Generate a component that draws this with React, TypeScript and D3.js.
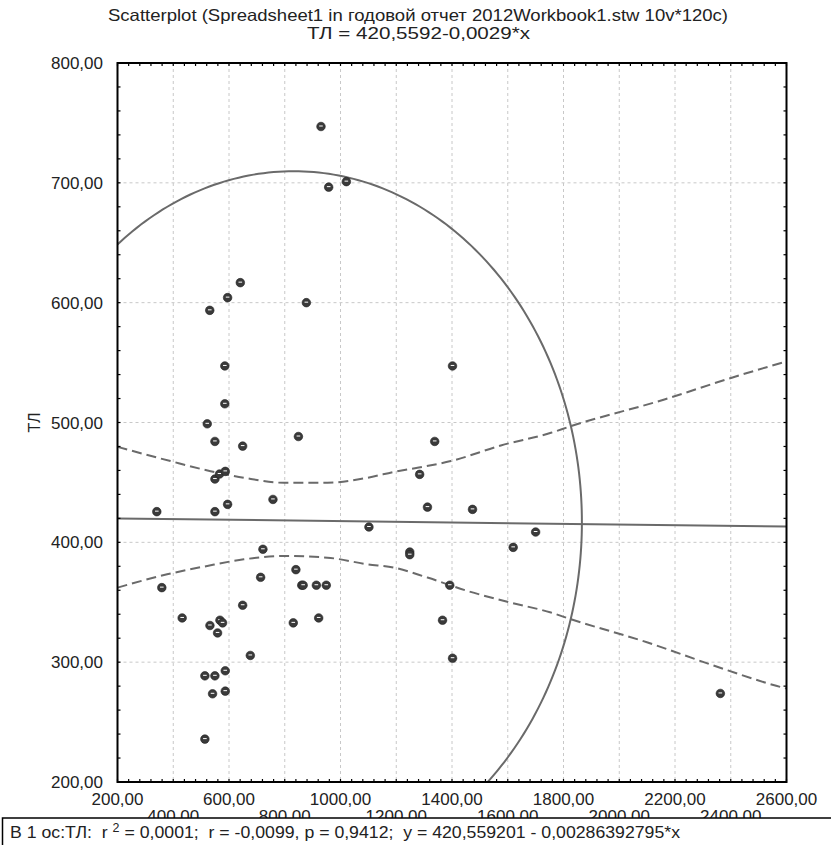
import React from 'react';
import * as d3 from 'd3';

// ---- data ----
const pointX = [930, 957.6, 1021, 531, 595, 640.6, 877.5,
  585, 585, 522, 549.5, 649, 849, 549.5, 566, 586.6, 595, 757.7, 341, 549.5, 1102, 721.7, 713.5, 840, 359, 861, 866, 913.4, 949,
  432, 531.6, 567.5, 577, 559, 649, 830.6, 921.7, 676.5, 513.5, 549.4, 586.6, 541, 586.6, 513.5,
  1401.8, 1338, 1284, 1312, 1473.6, 1700, 1248.5, 1248.5, 1619.5, 1392, 1366, 1402, 2362.7];
const pointY = [747, 696.4, 701, 593.6, 604.2, 616.7, 600,
  547.2, 515.6, 498.9, 484.2, 480.3, 488.3, 452.8, 457, 459.2, 431.7, 435.8, 425.6, 425.6, 412.8, 394.2, 370.8, 377.2, 362.2, 364.2, 364.2, 364.2, 364.2,
  336.9, 330.6, 335, 332.8, 324.4, 347.5, 332.8, 336.9, 305.6, 288.6, 288.6, 292.8, 273.6, 275.8, 235.8,
  547.2, 484.2, 456.7, 429.4, 427.5, 408.6, 391.9, 389.7, 395.8, 364.2, 335, 303.3, 273.9];

const upperBandX = [200, 390, 534, 653, 797, 953, 1097, 1204, 1276, 1396, 1575, 1755, 1827, 2162, 2401, 2600];
const upperBandY = [479.7, 467.8, 459.4, 453.9, 449.7, 449.7, 453.9, 459.4, 462.2, 467.8, 480.8, 491.4, 497, 519.2, 537.2, 551];
const lowerBandX = [200, 378, 522, 653, 797, 953, 1097, 1192, 1312, 1456, 1611, 1755, 1827, 2102, 2341, 2563, 2600];
const lowerBandY = [362.2, 373.3, 380.3, 385.8, 388.6, 387.2, 381.7, 378.9, 370.6, 359.4, 349.7, 341.4, 335.8, 316.4, 297, 280.3, 278];

const intercept = 420.559201;
const slope = -0.00286392795;
const ellipseCenter = [832, 416.7];
const ellipseRadii = [1034, 293];

const xTicksRow1 = [200, 600, 1000, 1400, 1800, 2200, 2600];
const xTicksRow2 = [400, 800, 1200, 1600, 2000, 2400];
const yTicks = [200, 300, 400, 500, 600, 700, 800];
const xDomain = [200, 2600];
const yDomain = [200, 800];

const fmt = (v: number) => v.toFixed(2).replace('.', ',');

export default function App() {
  const W = 831, H = 845;
  const L = 117.5, R = 786.5, T = 63, B = 782;
  const x = d3.scaleLinear().domain(xDomain).range([L, R]);
  const y = d3.scaleLinear().domain(yDomain).range([B, T]);
  const font = 'Liberation Sans, Arial, sans-serif';
  const lineColor = '#6a6a6a';

  const minorX = d3.range(xDomain[0], xDomain[1] + 1, 40);
  const minorY = d3.range(yDomain[0], yDomain[1] + 1, 20);

  const bandLine = d3.line<[number, number]>().x(d => x(d[0])).y(d => y(d[1])).curve(d3.curveMonotoneX);
  const upper = bandLine(upperBandX.map((v, i) => [v, upperBandY[i]]));
  const lower = bandLine(lowerBandX.map((v, i) => [v, lowerBandY[i]]));

  const thetas = d3.range(0, 361, 1).map(d => (d * Math.PI) / 180);
  const ellipse = d3.line<number>()
    .x(t => x(ellipseCenter[0] + ellipseRadii[0] * Math.cos(t)))
    .y(t => y(ellipseCenter[1] + ellipseRadii[1] * Math.sin(t)))(thetas);

  return (
    <svg width={W} height={H} style={{ position: 'absolute', left: 0, top: 0, background: '#fff' }} fontFamily={font}>
      <defs>
        <clipPath id="plot"><rect x={L} y={T} width={R - L} height={B - T} /></clipPath>
      </defs>
      <rect x={0} y={0} width={W} height={H} fill="#fff" />
      {/* title */}
      <text x={108} y={21} fontSize={16.5} fill="#222" textLength={620} lengthAdjust="spacingAndGlyphs">Scatterplot (Spreadsheet1 in годовой отчет 2012Workbook1.stw 10v*120c)</text>
      <text x={307} y={39} fontSize={16.5} fill="#222" textLength={223} lengthAdjust="spacingAndGlyphs">ТЛ = 420,5592-0,0029*x</text>

      {/* grid */}
      {d3.range(200, 2601, 200).map(v => (
        <line key={'gx' + v} x1={x(v)} x2={x(v)} y1={T} y2={B} stroke="#c8c8c8" strokeDasharray="3,3" />
      ))}
      {yTicks.map(v => (
        <line key={'gy' + v} x1={L} x2={R} y1={y(v)} y2={y(v)} stroke="#c8c8c8" strokeDasharray="3,3" />
      ))}

      <g clipPath="url(#plot)">
        <path d={ellipse || ''} fill="none" stroke={lineColor} strokeWidth={2} />
        <path d={upper || ''} fill="none" stroke={lineColor} strokeWidth={2} strokeDasharray="10,5" />
        <path d={lower || ''} fill="none" stroke={lineColor} strokeWidth={2} strokeDasharray="10,5" />
        <line x1={x(xDomain[0])} x2={x(xDomain[1])} y1={y(intercept + slope * xDomain[0])} y2={y(intercept + slope * xDomain[1])} stroke={lineColor} strokeWidth={2} />
        {pointX.map((v, i) => (
          <g key={'p' + i}>
            <circle cx={x(v)} cy={y(pointY[i])} r={4.3} fill="#3a3a3a" stroke="#222" strokeWidth={0.6} />
            <line x1={x(v) - 1.8} x2={x(v) + 1.8} y1={y(pointY[i]) - 0.5} y2={y(pointY[i]) - 0.5} stroke="#fff" strokeWidth={1} />
          </g>
        ))}
      </g>

      {/* minor ticks */}
      {minorX.map(v => (
        <g key={'tx' + v}>
          <line x1={x(v)} x2={x(v)} y1={B} y2={B - 3} stroke="#000" strokeWidth={1.2} />
          <line x1={x(v)} x2={x(v)} y1={T} y2={T + 3} stroke="#000" strokeWidth={1.2} />
        </g>
      ))}
      {minorY.map(v => (
        <g key={'ty' + v}>
          <line x1={L} x2={L + 3} y1={y(v)} y2={y(v)} stroke="#000" strokeWidth={1.2} />
          <line x1={R} x2={R - 3} y1={y(v)} y2={y(v)} stroke="#000" strokeWidth={1.2} />
        </g>
      ))}
      <rect x={L} y={T} width={R - L} height={B - T} fill="none" stroke="#000" strokeWidth={2} />

      {/* y labels */}
      {yTicks.map(v => (
        <text key={'yl' + v} x={103} y={y(v)} dy="0.36em" textAnchor="end" fontSize={17} fill="#222">{fmt(v)}</text>
      ))}
      <text transform={`translate(40,${(T + B) / 2}) rotate(-90)`} textAnchor="middle" fontSize={16} fill="#222">ТЛ</text>

      {/* x labels */}
      {xTicksRow1.map(v => (
        <text key={'xa' + v} x={x(v)} y={805} textAnchor="middle" fontSize={17} fill="#222">{fmt(v)}</text>
      ))}
      {xTicksRow2.map(v => (
        <text key={'xb' + v} x={x(v)} y={822} textAnchor="middle" fontSize={17} fill="#222">{fmt(v)}</text>
      ))}

      {/* stats box */}
      <rect x={2.5} y={818} width={W + 10} height={40} fill="#fff" stroke="#000" strokeWidth={1.5} />
      <text x={10} y={838} fontSize={17} fill="#222" style={{ whiteSpace: 'pre' }} textLength={670} lengthAdjust="spacingAndGlyphs">
        <tspan>{'В 1 ос:ТЛ:  r '}</tspan>
        <tspan dy={-6} fontSize={12}>2</tspan>
        <tspan dy={6}>{' = 0,0001;  r = -0,0099, p = 0,9412;  y = 420,559201 - 0,00286392795*x'}</tspan>
      </text>
    </svg>
  );
}
